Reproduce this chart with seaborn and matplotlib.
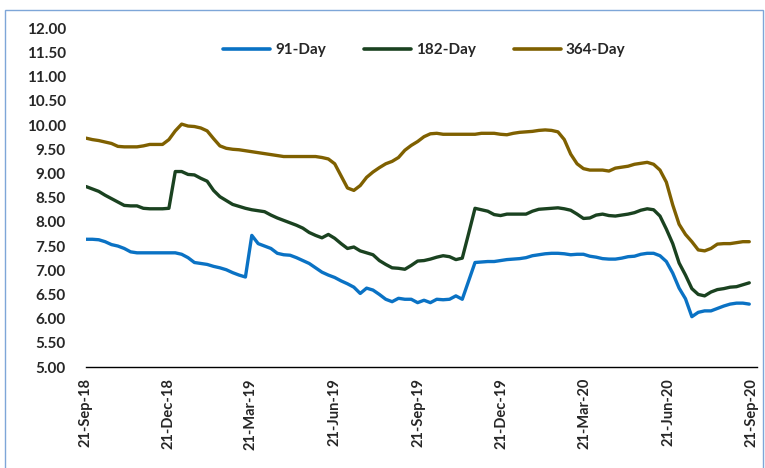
import numpy as np
import pandas as pd
import matplotlib
matplotlib.use("Agg")
import matplotlib.pyplot as plt
import matplotlib.dates as mdates
from matplotlib.patches import Rectangle
import seaborn as sns

# Weekly T-bill yields (%)
start_date = "2018-09-21"
n_weeks = 105

yield_91 = [
    7.64, 7.64, 7.63, 7.59, 7.53, 7.50, 7.45, 7.38, 7.36, 7.36,
    7.36, 7.36, 7.36, 7.36, 7.36, 7.33, 7.26, 7.16, 7.14, 7.12,
    7.08, 7.05, 7.01, 6.95, 6.90, 6.86, 7.72, 7.55, 7.50, 7.45,
    7.35, 7.32, 7.31, 7.26, 7.20, 7.14, 7.05, 6.96, 6.90, 6.85,
    6.78, 6.72, 6.65, 6.52, 6.63, 6.59, 6.50, 6.40, 6.35, 6.42,
    6.40, 6.40, 6.33, 6.38, 6.33, 6.40, 6.39, 6.40, 6.47, 6.40,
    6.78, 7.16, 7.17, 7.18, 7.18, 7.20, 7.22, 7.23, 7.24, 7.26,
    7.30, 7.32, 7.34, 7.35, 7.35, 7.34, 7.32, 7.33, 7.33, 7.29,
    7.27, 7.24, 7.23, 7.23, 7.25, 7.28, 7.29, 7.33, 7.35, 7.35,
    7.30, 7.18, 6.94, 6.63, 6.41, 6.04, 6.13, 6.16, 6.16, 6.21,
    6.26, 6.30, 6.32, 6.32, 6.30,
]

yield_182 = [
    8.73, 8.68, 8.63, 8.55, 8.48, 8.41, 8.34, 8.33, 8.33, 8.28,
    8.27, 8.27, 8.27, 8.28, 9.04, 9.04, 8.98, 8.97, 8.90, 8.84,
    8.65, 8.52, 8.44, 8.36, 8.32, 8.28, 8.25, 8.23, 8.21, 8.14,
    8.08, 8.03, 7.98, 7.93, 7.87, 7.78, 7.72, 7.67, 7.74, 7.66,
    7.55, 7.45, 7.48, 7.40, 7.36, 7.32, 7.20, 7.12, 7.05, 7.04,
    7.02, 7.10, 7.19, 7.20, 7.23, 7.27, 7.30, 7.28, 7.22, 7.25,
    7.76, 8.28, 8.25, 8.22, 8.15, 8.13, 8.16, 8.16, 8.16, 8.16,
    8.22, 8.26, 8.27, 8.28, 8.29, 8.27, 8.24, 8.16, 8.07, 8.08,
    8.14, 8.16, 8.13, 8.12, 8.14, 8.16, 8.19, 8.24, 8.27, 8.25,
    8.12, 7.85, 7.55, 7.15, 6.90, 6.62, 6.50, 6.47, 6.55, 6.60,
    6.62, 6.65, 6.66, 6.70, 6.74,
]

yield_364 = [
    9.73, 9.70, 9.68, 9.65, 9.62, 9.56, 9.55, 9.55, 9.55, 9.57,
    9.60, 9.60, 9.60, 9.70, 9.88, 10.02, 9.98, 9.97, 9.94, 9.88,
    9.72, 9.57, 9.52, 9.50, 9.49, 9.47, 9.45, 9.43, 9.41, 9.39,
    9.37, 9.35, 9.35, 9.35, 9.35, 9.35, 9.35, 9.33, 9.30, 9.20,
    8.95, 8.70, 8.65, 8.75, 8.92, 9.03, 9.12, 9.20, 9.25, 9.33,
    9.48, 9.58, 9.66, 9.76, 9.82, 9.83, 9.81, 9.81, 9.81, 9.81,
    9.81, 9.81, 9.83, 9.83, 9.83, 9.81, 9.80, 9.83, 9.85, 9.86,
    9.87, 9.89, 9.90, 9.89, 9.86, 9.70, 9.40, 9.20, 9.10, 9.07,
    9.07, 9.07, 9.05, 9.11, 9.13, 9.15, 9.19, 9.21, 9.23, 9.19,
    9.07, 8.82, 8.35, 7.95, 7.74, 7.59, 7.42, 7.40, 7.45, 7.54,
    7.55, 7.55, 7.57, 7.59, 7.59,
]

series_names = ["91-Day", "182-Day", "364-Day"]
series_colors = ["#0A72C4", "#1A4220", "#7F6000"]

tick_dates = ["2018-09-21", "2018-12-21", "2019-03-21", "2019-06-21", "2019-09-21",
              "2019-12-21", "2020-03-21", "2020-06-21", "2020-09-21"]
y_ticks = np.arange(5.0, 12.01, 0.5)

dates = pd.date_range(start_date, periods=n_weeks, freq="7D")
df = pd.DataFrame({"Date": dates, "91-Day": yield_91,
                   "182-Day": yield_182, "364-Day": yield_364})
long_df = df.melt(id_vars="Date", var_name="Tenor", value_name="Yield")

sns.set_style("white")
plt.rcParams["font.family"] = ["Lato", "DejaVu Sans"]
plt.rcParams["font.weight"] = "bold"

fig = plt.figure(figsize=(7.65, 4.68), dpi=100)
ax = fig.add_axes([0.1124, 0.2158, 0.8706, 0.7237])

sns.lineplot(data=long_df, x="Date", y="Yield", hue="Tenor",
             hue_order=series_names, palette=series_colors,
             linewidth=2.4, ax=ax)

x0 = mdates.date2num(pd.Timestamp(tick_dates[0]))
x1 = mdates.date2num(pd.Timestamp(tick_dates[-1]))
ax.set_xlim(x0, x1)
ax.set_ylim(5.0, 12.0)
ax.set_yticks(y_ticks)
ax.set_yticklabels([f"{v:.2f}" for v in y_ticks], fontsize=11, fontweight="bold")
ax.set_xticks([mdates.date2num(pd.Timestamp(d)) for d in tick_dates])
ax.xaxis.set_major_formatter(mdates.DateFormatter("%d-%b-%y"))
plt.setp(ax.get_xticklabels(), rotation=90, fontsize=10.5, fontweight="bold")
ax.tick_params(axis="y", length=0, pad=14.5)
ax.tick_params(axis="x", length=0, pad=8)
ax.set_xlabel("")
ax.set_ylabel("")

for side in ["top", "right", "left"]:
    ax.spines[side].set_visible(False)
ax.spines["bottom"].set_color("black")
ax.spines["bottom"].set_linewidth(1.0)
ax.spines["bottom"].set_bounds(x0, x1 + 5)
ax.spines["bottom"].set_clip_on(False)

leg = ax.legend(loc="center", bbox_to_anchor=(0.508, 0.935), ncol=3,
                frameon=False, handlelength=3.1, handletextpad=0.3,
                columnspacing=2.5, prop={"size": 11, "weight": "bold"})
for line in leg.get_lines():
    line.set_linewidth(2.6)

# outer light blue border
fig.patches.append(Rectangle((0.007, -0.02), 0.99, 0.999, transform=fig.transFigure,
                             fill=False, edgecolor="#7EA6D8", linewidth=1.0))

fig.savefig("out.png", dpi=100)
